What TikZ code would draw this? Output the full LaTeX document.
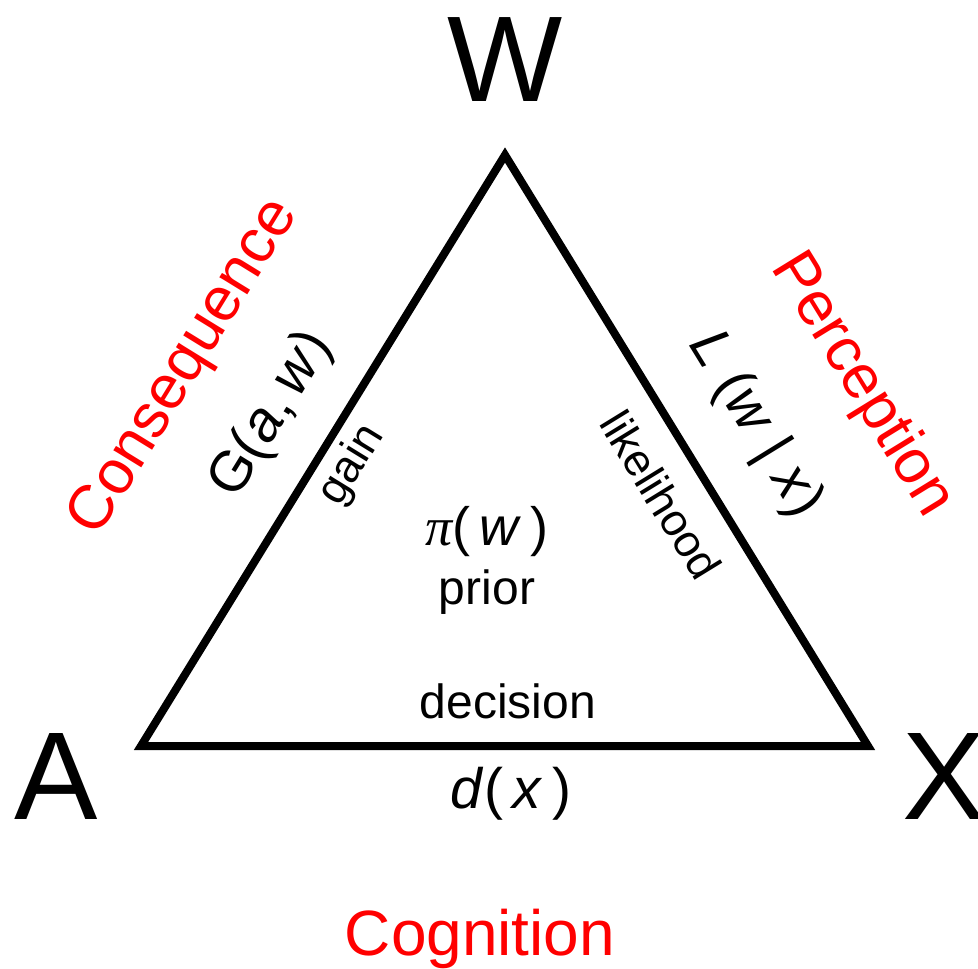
\documentclass[tikz,border=0pt]{standalone}
\usepackage{fontspec}
\setmainfont{Liberation Sans}
\newfontfamily\greekfont{Liberation Serif}
\usepackage{tikz}
\usetikzlibrary{positioning}

\newcommand{\fs}[1]{\fontsize{#1}{#1}\selectfont}

\begin{document}
\begin{tikzpicture}[x=1pt,y=-1pt,
  vertexlab/.style={inner sep=0pt,font=\fs{125}},
  sidelab/.style={inner sep=0pt,text=red,font=\fs{62}},
  funclab/.style={inner sep=0pt,font=\fs{57}},
  namelab/.style={inner sep=0pt,font=\fs{48}},
  edgelab/.style={inner sep=0pt,font=\fs{45}}]
\useasboundingbox (0,0) rectangle (978,969);
% corners of the triangle
\coordinate (w) at (505,155);
\coordinate (a) at (141,746);
\coordinate (x) at (868,746);
\draw[line width=8pt,miter limit=10] (w)--(x)--(a)--cycle;
% corner letters
\node[vertexlab,font=\fs{122}] (Wlab) at (505,60) {W};
\node[vertexlab] (Alab) at (56,776) {A};
\node[vertexlab] (Xlab) at (944,776) {X};
% left side
\node[sidelab,rotate=58.4] (conseq) at (185,368) {Consequence};
\node[funclab,rotate=58.4] (gain) at (272,415) {G(\textit{a},\,\textit{w})};
\node[edgelab,rotate=58.4] (gainlab) at (352,465) {gain};
% right side
\node[sidelab,rotate=-58.4] (percep) at (862,385) {Perception};
\node[funclab,rotate=-58.4] (lik) at (755,425) {\textit{L} (\textit{w} | \textit{x})};
\node[edgelab,rotate=-58.4] (liklab) at (661,495) {likelihood};
% inside
\node[funclab,font=\fs{54},anchor=base] (prior) at (487,545) {{\greekfont\itshape π}(\,\textit{w}\,)};
\node[namelab,anchor=base] (priorlab) at (487,604) {prior};
\node[namelab,anchor=base] (declab) at (508,718) {decision};
% bottom side
\node[funclab,anchor=base] (dec) at (511,808) {\textit{d}(\,\textit{x}\,)};
\node[sidelab,font=\fs{64},anchor=base] (cogn) at (480,955) {Cognition};
\end{tikzpicture}
\end{document}
